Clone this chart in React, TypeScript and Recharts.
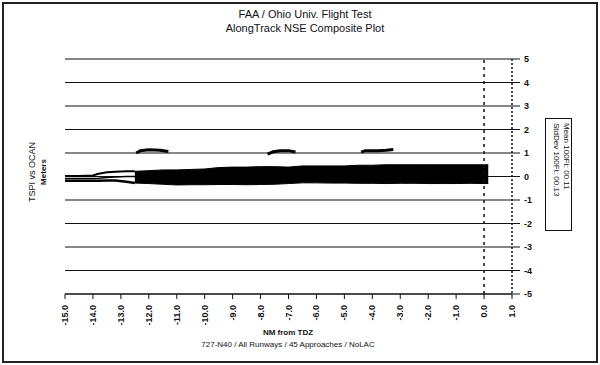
import React from "react";
import {
  ComposedChart,
  Area,
  Line,
  XAxis,
  YAxis,
  CartesianGrid,
  ReferenceLine,
} from "recharts";

// NM from TDZ (x) and NSE envelope (meters)
const bandX = [-12.5, -12, -11.5, -11, -10.5, -10, -9.5, -9, -8.5, -8, -7.5, -7, -6.5, -6, -5.5, -5, -4.5, -4, -3.5, -3, -2.5, -2, -1.5, -1, -0.5, 0, 0.15];
const bandHi = [0.22, 0.25, 0.28, 0.28, 0.3, 0.32, 0.38, 0.4, 0.4, 0.42, 0.42, 0.4, 0.45, 0.45, 0.45, 0.45, 0.48, 0.48, 0.5, 0.5, 0.5, 0.5, 0.5, 0.5, 0.5, 0.5, 0.5];
const bandLo = [-0.28, -0.3, -0.33, -0.36, -0.35, -0.35, -0.34, -0.34, -0.35, -0.34, -0.33, -0.3, -0.27, -0.27, -0.28, -0.28, -0.29, -0.29, -0.3, -0.29, -0.29, -0.3, -0.3, -0.3, -0.29, -0.3, -0.3];

// thin traces before the band gets solid
const leadX = [-15, -14.5, -14, -13.8, -13.5, -13.2, -12.8, -12.5];
const leadUp = [0.02, 0.02, 0.04, 0.12, 0.18, 0.2, 0.22, 0.22];
const leadMid = [-0.08, -0.08, -0.08, -0.07, -0.04, -0.02, 0.0, 0.0];
const leadLo = [-0.18, -0.18, -0.18, -0.18, -0.17, -0.17, -0.22, -0.28];

// short excursions just above +1 m
const bump1X = [-12.45, -12.3, -12, -11.6, -11.3];
const bump1Y = [1.0, 1.1, 1.14, 1.12, 1.06];
const bump2X = [-7.75, -7.55, -7.3, -7, -6.75];
const bump2Y = [0.95, 1.05, 1.1, 1.1, 1.04];
const bump3X = [-4.4, -4.25, -3.8, -3.5, -3.25];
const bump3Y = [1.04, 1.1, 1.1, 1.12, 1.15];

const xTicks = [-15, -14, -13, -12, -11, -10, -9, -8, -7, -6, -5, -4, -3, -2, -1, 0, 1];
const yTicks = [-5, -4, -3, -2, -1, 0, 1, 2, 3, 4, 5];

const zipPts = (xs: number[], ys: number[]) => xs.map((x, i) => ({ x, y: ys[i] }));

const bandData = bandX.map((x, i) => ({ x, band: [bandLo[i], bandHi[i]] }));

const FONT = "'Liberation Sans', Arial, sans-serif";

const XTick = (props: any) => {
  const { x, y, payload } = props;
  return (
    <text
      x={0}
      y={0}
      transform={`translate(${x + 3},${y + 4}) rotate(-90)`}
      textAnchor="end"
      fontSize={9}
      fontWeight="bold"
      fill="#111"
      fontFamily={FONT}
    >
      {payload.value.toFixed(1)}
    </text>
  );
};

const YTick = (props: any) => {
  const { x, y, payload } = props;
  return (
    <text x={x + 2} y={y + 3} fontSize={9} fontWeight="bold" fill="#111" fontFamily={FONT}>
      {payload.value}
    </text>
  );
};

export default function App() {
  const lineProps = {
    dataKey: "y",
    stroke: "#000",
    dot: false,
    isAnimationActive: false,
    type: "linear" as const,
  };
  return (
    <div style={{ position: "absolute", left: 0, top: 0, width: 600, height: 365, background: "#fff", fontFamily: FONT }}>
      <div style={{ position: "absolute", left: 2, top: 2, width: 592, height: 357, border: "2px solid #222" }} />
      <div style={{ position: "absolute", left: 0, width: 610, top: 7, textAlign: "center", fontSize: 11, lineHeight: "14px", color: "#111" }}>
        FAA / Ohio Univ. Flight Test
        <br />
        AlongTrack NSE Composite Plot
      </div>
      <div style={{ position: "absolute", left: 0, width: 576, top: 327, textAlign: "center", fontSize: 8, lineHeight: "12px", color: "#111" }}>
        <b>NM from TDZ</b>
        <br />
        727-N40 / All Runways / 45 Approaches / NoLAC
      </div>
      <ComposedChart
        width={600}
        height={365}
        margin={{ top: 59, right: 58, bottom: 31, left: 65 }}
      >
        <CartesianGrid vertical={false} stroke="#111" strokeWidth={1.2} strokeDasharray="" />
        <XAxis
          dataKey="x"
          type="number"
          domain={[-15, 1]}
          ticks={xTicks}
          allowDuplicatedCategory={false}
          tick={<XTick />}
          tickSize={5}
          height={40}
          axisLine={{ stroke: "#111", strokeWidth: 1.2 }}
          tickLine={{ stroke: "#111" }}
        />
        <YAxis
          orientation="right"
          domain={[-5, 5]}
          ticks={yTicks}
          tick={<YTick />}
          tickSize={8}
          width={30}
          axisLine={{ stroke: "#111", strokeDasharray: "2 2", strokeWidth: 1.5 }}
          tickLine={{ stroke: "#111" }}
        />
        <ReferenceLine x={0} stroke="#111" strokeDasharray="3 4" strokeWidth={1.5} />
        <Area
          data={bandData}
          dataKey="band"
          stroke="#000"
          fill="#000"
          fillOpacity={1}
          strokeWidth={1}
          type="linear"
          isAnimationActive={false}
        />
        <Line {...lineProps} data={zipPts(leadX, leadUp)} strokeWidth={2} />
        <Line {...lineProps} data={zipPts(leadX, leadMid)} strokeWidth={1.5} />
        <Line {...lineProps} data={zipPts(leadX, leadLo)} strokeWidth={2.5} />
        <Line {...lineProps} data={zipPts(bump1X, bump1Y)} strokeWidth={3} />
        <Line {...lineProps} data={zipPts(bump2X, bump2Y)} strokeWidth={3} />
        <Line {...lineProps} data={zipPts(bump3X, bump3Y)} strokeWidth={3} />
      </ComposedChart>
      <div
        style={{
          position: "absolute",
          left: 545,
          top: 118,
          width: 27,
          height: 113,
          border: "1.5px solid #111",
          boxSizing: "border-box",
        }}
      >
        <div
          style={{
            position: "absolute",
            left: 25,
            top: 4,
            transform: "rotate(90deg)",
            transformOrigin: "0 0",
            whiteSpace: "nowrap",
            fontSize: 8,
            lineHeight: "10px",
            color: "#111",
          }}
        >
          Mean 100Ft: 00.11
          <br />
          StdDev 100Ft: 00.13
        </div>
      </div>
      <div
        style={{
          position: "absolute",
          left: 38,
          top: 172,
          transform: "translate(-50%, -50%) rotate(-90deg)",
          whiteSpace: "nowrap",
          textAlign: "center",
          fontSize: 9,
          lineHeight: "11px",
          color: "#111",
        }}
      >
        TSPI vs OCAN
        <br />
        <b style={{ fontSize: 8 }}>Meters</b>
      </div>
    </div>
  );
}
